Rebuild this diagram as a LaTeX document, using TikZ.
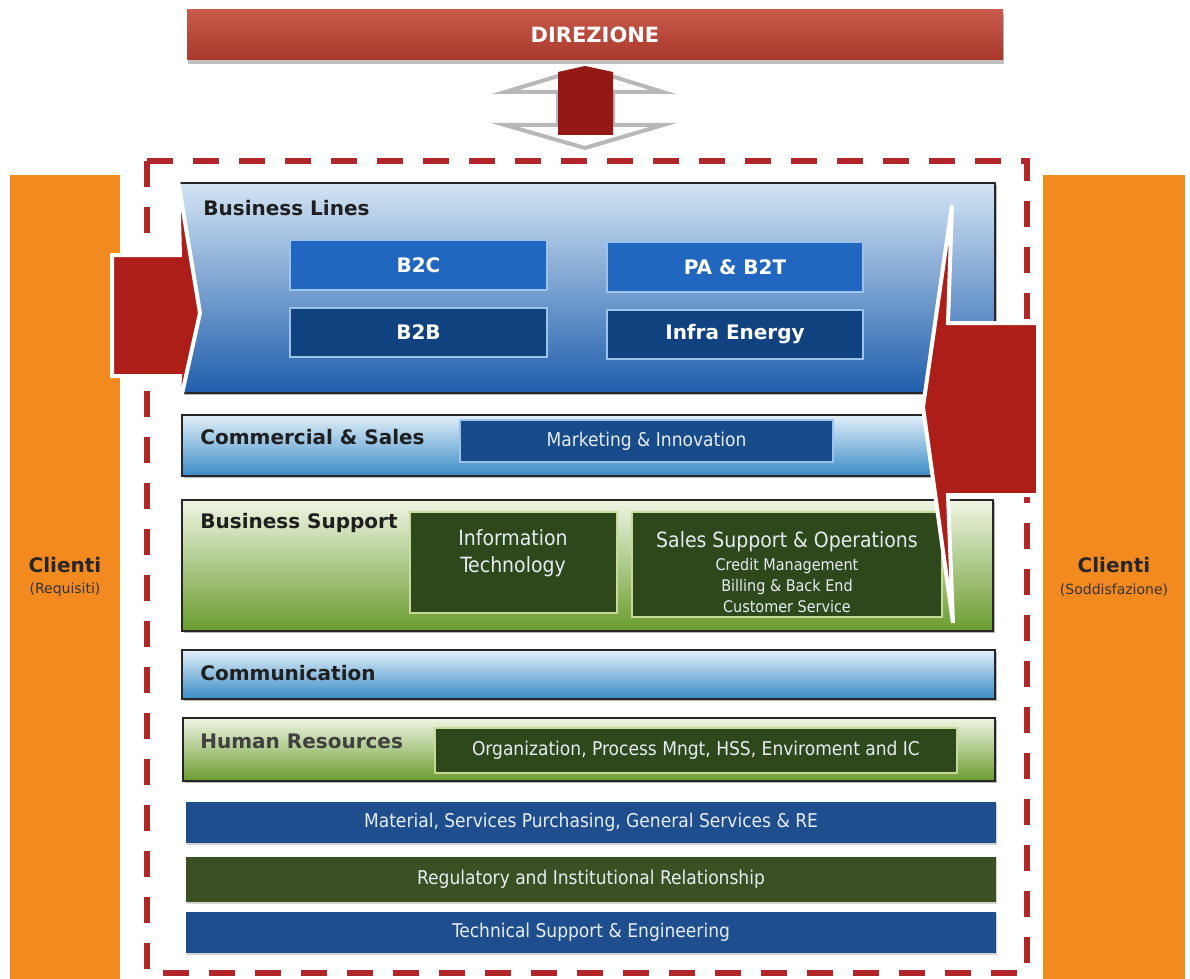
\documentclass[tikz,border=0pt]{standalone}
\usepackage{fontspec}
\setmainfont{DejaVu Sans}
\newfontfamily\cond{DejaVu Sans Condensed}
\usetikzlibrary{shadows}
\definecolor{dirtop}{HTML}{C85A4C}
\definecolor{dirbot}{HTML}{A8382B}
\definecolor{arrred}{HTML}{AE1E19}
\definecolor{dashred}{HTML}{B2262A}
\definecolor{orangec}{HTML}{F28A20}
\definecolor{bltop}{HTML}{D3E4F4}
\definecolor{blmid}{HTML}{86B1DC}
\definecolor{blbot}{HTML}{1F5EAC}
\definecolor{midblue}{HTML}{2167BF}
\definecolor{darkblue}{HTML}{0F427E}
\definecolor{lightedge}{HTML}{9CC3EA}
\definecolor{cstop}{HTML}{E2EFF8}
\definecolor{csbot}{HTML}{3A8CC6}
\definecolor{mkblue}{HTML}{174B89}
\definecolor{grtop}{HTML}{EFF5E3}
\definecolor{grmid}{HTML}{C2D9A0}
\definecolor{grbot}{HTML}{6A9C2E}
\definecolor{dkgreen}{HTML}{2E481C}
\definecolor{greenedge}{HTML}{C6DA9A}
\definecolor{barblue}{HTML}{1F4E8E}
\definecolor{bargreen}{HTML}{3A5023}
\definecolor{paletext}{HTML}{E6ECF2}
\tikzset{
  plain/.style={inner sep=0pt, outer sep=0pt, anchor=north west},
  rowbox/.style={plain, draw=black!85, line width=1.1pt,
    drop shadow={shadow xshift=0.8pt, shadow yshift=-1.2pt, fill=black!45, opacity=0.6}},
  bluerow/.style={rowbox, top color=bltop, middle color=blmid, bottom color=blbot},
  csrow/.style={rowbox, top color=cstop, bottom color=csbot},
  greenrow/.style={rowbox, top color=grtop, middle color=grmid, bottom color=grbot},
  inbox/.style={plain, line width=0.8pt},
  flatbar/.style={plain,
    drop shadow={shadow xshift=0.6pt, shadow yshift=-0.8pt, fill=black!35, opacity=0.5}},
  title/.style={anchor=west, inner sep=0pt, font=\bfseries\fontsize{10}{12}\selectfont, text=black!88},
  boxlabel/.style={text=white, font=\bfseries\fontsize{10}{12}\selectfont},
  palelabel/.style={text=paletext, font=\cond\fontsize{9.5}{11}\selectfont},
  clientbar/.style={plain, fill=orangec},
  redarrow/.style={fill=arrred, draw=white, line width=2pt, line join=miter},
}
\begin{document}
\begin{tikzpicture}[x=0.5pt,y=-0.5pt]
\useasboundingbox (0,0) rectangle (1190,979);
\fill[white] (0,0) rectangle (1190,979);

% clients bars
\node[clientbar, minimum width=55pt, minimum height=402pt] (cl) at (10,175) {};
\node[clientbar, minimum width=71pt, minimum height=402pt] (cr) at (1043,175) {};
\node[font=\bfseries\fontsize{10}{12}\selectfont, text=black!85] (cltitle) at (65,565) {Clienti};
\node[font=\fontsize{7}{8}\selectfont, text=black!80] (clsub) at (65,590) {(Requisiti)};
\node[font=\bfseries\fontsize{10}{12}\selectfont, text=black!85] (crtitle) at (1114,565) {Clienti};
\node[font=\fontsize{7}{8}\selectfont, text=black!80] (crsub) at (1114,590) {(Soddisfazione)};

% dashed frame
\draw[dashred, line width=3pt, dash pattern=on 13pt off 10pt] (147,161) rectangle (1027,973);

% rows
\node[bluerow, minimum width=407.5pt, minimum height=105pt] (bl) at (180,183) {};
\node[title] (bltitle) at (203,208) {Business Lines};
\node[inbox, fill=midblue, draw=lightedge, minimum width=128.5pt, minimum height=25pt] (b2c) at (290,240) {};
\node[boxlabel] at (b2c.center) {B2C};
\node[inbox, fill=midblue, draw=lightedge, minimum width=128pt, minimum height=25pt] (pa) at (607,242) {};
\node[boxlabel] at (pa.center) {PA \& B2T};
\node[inbox, fill=darkblue, draw=lightedge, minimum width=128.5pt, minimum height=24.5pt] (b2b) at (290,308) {};
\node[boxlabel] at (b2b.center) {B2B};
\node[inbox, fill=darkblue, draw=lightedge, minimum width=128pt, minimum height=24.5pt] (infra) at (607,310) {};
\node[boxlabel] at (infra.center) {Infra Energy};

\node[csrow, minimum width=406.5pt, minimum height=30.5pt] (cs) at (182,415) {};
\node[title] (cstitle) at (200,437) {Commercial \& Sales};
\node[inbox, fill=mkblue, draw=lightedge, minimum width=186.5pt, minimum height=21pt] (mk) at (460,420) {};
\node[palelabel] at (mk.center) {Marketing \& Innovation};

\node[greenrow, minimum width=405.5pt, minimum height=65.5pt] (bs) at (182,500) {};
\node[title] (bstitle) at (200,523) {Business Support};
\node[inbox, fill=dkgreen, draw=greenedge, minimum width=103.5pt, minimum height=50.5pt] (it) at (410,512) {};
\node[palelabel, font=\cond\fontsize{10.5}{13.5}\selectfont, align=center, anchor=north] at (513,522) {Information\\Technology};
\node[inbox, fill=dkgreen, draw=greenedge, minimum width=155pt, minimum height=52.5pt] (sso) at (632,512) {};
\node[palelabel, font=\cond\fontsize{10.5}{12}\selectfont, anchor=north] (ssot) at (787,524) {Sales Support \& Operations};
\node[palelabel, font=\cond\fontsize{8}{10.5}\selectfont, align=center, anchor=north] at (787,551) {Credit Management\\Billing \& Back End\\Customer Service};

\node[csrow, minimum width=406.5pt, minimum height=24.5pt] (com) at (182,650) {};
\node[title] (comtitle) at (200,673) {Communication};

\node[greenrow, minimum width=406pt, minimum height=31.5pt] (hr) at (183,718) {};
\node[title, text=black!75] (hrtitle) at (200,741) {Human Resources};
\node[inbox, fill=dkgreen, draw=greenedge, minimum width=261pt, minimum height=22.5pt] (org) at (435,728) {};
\node[palelabel] at (org.center) {Organization, Process Mngt, HSS, Enviroment and IC};

\node[flatbar, fill=barblue, minimum width=405pt, minimum height=20.5pt] (mat) at (186,802) {};
\node[palelabel] at (mat.center) {Material, Services Purchasing, General Services \& RE};
\node[flatbar, fill=bargreen, minimum width=405pt, minimum height=22.5pt] (reg) at (186,857) {};
\node[palelabel] at (reg.center) {Regulatory and Institutional Relationship};
\node[flatbar, fill=barblue, minimum width=405pt, minimum height=20.5pt] (tec) at (186,912) {};
\node[palelabel] at (tec.center) {Technical Support \& Engineering};

% side arrows
\draw[redarrow] (112,255) -- (180,255) -- (178,180) -- (200,313) -- (178,412) -- (180,376) -- (112,376) -- cycle;
\draw[redarrow] (1038,323) -- (948,323) -- (952,205) -- (923,407) -- (953,623) -- (948,495) -- (1038,495) -- cycle;

% double arrow between direction and organisation
\draw[fill=white, draw=black!28, line width=2pt, line join=miter]
  (505,92) -- (585,68) -- (663,92) -- (613,92) -- (613,125) -- (663,125) -- (585,148)
  -- (505,125) -- (558,125) -- (558,92) -- cycle;
\fill[arrred!85!black] (558,72) -- (585,66) -- (613,72) -- (613,135) -- (558,135) -- cycle;

% direzione
\node[plain, minimum width=408pt, minimum height=25pt, top color=dirtop, bottom color=dirbot,
  drop shadow={shadow xshift=0.5pt, shadow yshift=-2pt, fill=black!40, opacity=0.6}] (dir) at (187,10) {};
\node[text=white, font=\bfseries\fontsize{10.5}{12}\selectfont] at (dir.center) {DIREZIONE};
\end{tikzpicture}
\end{document}
